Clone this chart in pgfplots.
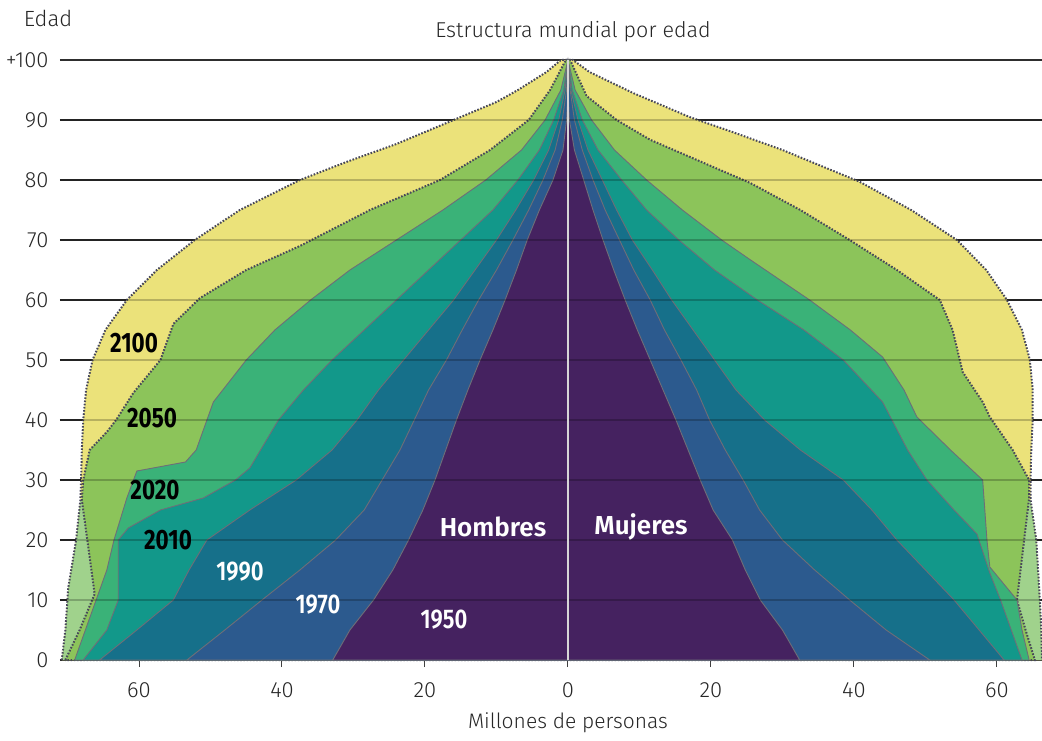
\documentclass[border=0pt]{standalone}
\usepackage{pgfplots}
\pgfplotsset{compat=1.18}
\usepackage{fontspec}
\setmainfont{Fira Sans Light}[BoldFont={Fira Sans SemiBold}]
\newfontfamily\yfont{Fira Sans}
\definecolor{c2100}{HTML}{EBE27A}
\definecolor{ccorner}{HTML}{A0D28C}
\definecolor{c2050}{HTML}{8CC45A}
\definecolor{c2020}{HTML}{3AB278}
\definecolor{c2010}{HTML}{12988A}
\definecolor{c1990}{HTML}{16708A}
\definecolor{c1970}{HTML}{2C5A8E}
\definecolor{c1950}{HTML}{452260}
\definecolor{outl}{HTML}{6E6E78}
\definecolor{dotl}{HTML}{48485A}
\begin{document}
\begin{tikzpicture}[x=1pt,y=1pt]
\useasboundingbox (0,0) rectangle (1042,740);
\begin{axis}[
  at={(60pt,80pt)}, anchor=south west,
  scale only axis, width=982pt, height=600pt,
  xmin=-71.05, xmax=66.3, ymin=0, ymax=100,
  clip=false,
  axis line style={draw=none},
  xtick={-60,-40,-20,0,20,40,60}, xticklabels={60,40,20,0,20,40,60},
  ytick={0,10,...,100}, yticklabels={0,10,20,30,40,50,60,70,80,90,+100},
  xtick pos=bottom, ytick pos=left,
  ymajorgrids, grid style={line width=1.7pt, color=black!82},
  xtick style={draw=black!75, line width=1pt}, tick align=outside, major tick length=7pt,
  ytick style={draw=none},
  tick label style={font=\fontsize{22}{24}\selectfont, text=black!85},
  xticklabel style={yshift=-12pt},
  yticklabel style={xshift=-1pt},
  /pgf/number format/assume math mode=true,
  dotted outline/.style={draw=dotl, line width=2pt, dash pattern=on 1.6pt off 1.6pt},
  solid outline/.style={draw=outl, line width=0.9pt},
]
% 2100 (outer envelope)
\addplot[fill=c2100, draw=none] coordinates {
(-70.8,0) (-70.3,5) (-69.9,12) (-68.8,20) (-68.2,26.7) (-68.1,30) (-68,35) (-67.8,40) (-67.4,45) (-66.5,50) (-64.7,55) (-61.7,60) (-57.5,65) (-52.2,70) (-45.9,75) (-37.5,80) (-31,83) (-24,86) (-16,90) (-10,93) (-7,95) (-3,98) (-1,100)
(0.7,100) (3,98) (9.1,94.5) (17,90.5) (23,88) (30,85) (40.8,79.7) (48,75) (54.4,70) (58.5,65) (61.4,60) (63.5,55) (64.6,50) (65,45) (65,40) (64.8,35) (64.7,30) (64.7,26.7) (65.5,20) (66,10) (66.2,5) (66.3,0)
} -- cycle;
% lower corners (2100 beyond 2050)
\addplot[fill=ccorner, draw=none] coordinates {
(-70.8,0) (-70.3,5) (-69.9,12) (-68.8,20) (-68.2,26.7)
(64.7,26.7) (65.5,20) (66,10) (66.2,5) (66.3,0)
} -- cycle;
\addplot[dotted outline] coordinates {
(-70.8,0) (-70.3,5) (-69.9,12) (-68.8,20) (-68.2,26.7) (-68.1,30) (-68,35) (-67.8,40) (-67.4,45) (-66.5,50) (-64.7,55) (-61.7,60) (-57.5,65) (-52.2,70) (-45.9,75) (-37.5,80) (-31,83) (-24,86) (-16,90) (-10,93) (-7,95) (-3,98) (-1,100)
(0.7,100) (3,98) (9.1,94.5) (17,90.5) (23,88) (30,85) (40.8,79.7) (48,75) (54.4,70) (58.5,65) (61.4,60) (63.5,55) (64.6,50) (65,45) (65,40) (64.8,35) (64.7,30) (64.7,26.7) (65.5,20) (66,10) (66.2,5) (66.3,0)
};
% 2050
\addplot[fill=c2050, dotted outline] coordinates {
(-70.3,0) (-68.3,5) (-66.2,11) (-67,18) (-68,26.7) (-67.8,30) (-66.9,35) (-64.5,38) (-63.2,40) (-60.8,44.5) (-57,50) (-55.2,56) (-51.5,60.3) (-45,65) (-37.5,69) (-27.7,75) (-17.9,80) (-10.9,85) (-5.5,90) (-2.5,95) (-0.3,100)
(0.3,100) (2.6,94) (6.8,90) (11.5,86.7) (25.5,79.5) (32.5,75) (39.4,70) (46,65) (52,60) (53.8,55) (55.2,48) (58,43) (59,40.5) (62.2,35) (64.5,30) (64.5,27) (63.8,20) (63.3,15) (62.8,10) (64,5) (65.3,0)
} -- cycle;
% 2020
\addplot[fill=c2020, solid outline] coordinates {
(-69,0) (-67.5,5) (-66,10) (-64.5,15) (-63.5,20) (-61.7,27) (-60.3,31.5) (-53.5,33) (-52,35) (-50.5,40) (-49.6,43) (-45,50) (-41,55) (-36,60) (-30.5,65) (-24,70) (-17.5,75) (-11.5,80) (-6.5,85) (-3.2,90) (-1,95) (0,100)
(0,100) (1,95) (3.3,90) (6.5,85) (11,80) (16,75) (21.5,70) (25.5,66.7) (33.8,60) (39.5,55) (44,50.5) (47,45) (48.8,40.5) (53.5,35) (58,30) (58.3,25) (58.6,20) (59,15.5) (62.8,10) (63.5,5) (64.5,0)
} -- cycle;
% 2010
\addplot[fill=c2010, solid outline] coordinates {
(-67.8,0) (-64.5,5) (-62.9,10) (-62.9,15) (-62.9,20) (-61.5,22) (-57,25) (-51,27) (-46.5,30) (-44.5,32) (-43,35) (-40.5,40) (-37,45) (-33,50) (-28.5,55) (-24,60) (-19.5,65) (-15,70) (-10.5,75) (-7,80) (-4,85) (-2,90) (-0.6,95) (0,100)
(0,100) (0.6,95) (2,90) (4.2,85) (7.5,80) (11,75) (15.5,70) (20.5,65) (26.5,60) (33,55) (38.5,50) (44,43) (47.5,35) (50.2,30) (54,25) (57.2,21) (59,14.5) (60.5,10) (62,5) (63.5,0)
} -- cycle;
% 1990
\addplot[fill=c1990, solid outline] coordinates {
(-65.5,0) (-60.3,5) (-55.2,10) (-53,15) (-50.5,20) (-44.5,25) (-38,30) (-33,35) (-29.5,40) (-26.5,45) (-23,50) (-19.5,55) (-16,60) (-13,65) (-10,70) (-7.3,75) (-4.8,80) (-2.7,85) (-1.3,90) (-0.4,95) (0,100)
(0,100) (0.4,95) (1.4,90) (2.8,85) (4.8,80) (6.8,75) (9,70) (11.8,65) (14.5,60) (17.5,55) (20.5,50) (23.5,45) (27.5,40) (32.5,35) (38.5,30) (42.5,25) (46,20) (50,15) (54,10) (57.5,5) (61,0)
} -- cycle;
% 1970
\addplot[fill=c1970, solid outline] coordinates {
(-53.3,0) (-48,5) (-42.8,10) (-37.5,15) (-32.5,20) (-28.5,25) (-26,30) (-23.5,35) (-21.5,40) (-19.5,45) (-17,50) (-14.8,55) (-12.5,60) (-10,65) (-7.7,70) (-5.5,75) (-3.5,80) (-1.8,85) (-0.8,90) (-0.2,95) (0,100)
(0,100) (0.3,95) (0.9,90) (2,85) (3.5,80) (5.2,75) (7.2,70) (9.2,65) (11.5,60) (13.5,55) (15.8,50) (18,45) (19.8,40) (22,35) (24.5,30) (26.8,25) (30,20) (34.5,15) (39.4,10) (44.5,5) (50.6,0)
} -- cycle;
% 1950
\addplot[fill=c1950, solid outline] coordinates {
(-32.9,0) (-30.5,5) (-27.2,10) (-24.5,15) (-22.3,20) (-20.3,25) (-18.6,30) (-17.1,35) (-15.6,40) (-14,45) (-12.3,50) (-10.5,55) (-8.8,60) (-7.2,65) (-5.7,70) (-4,75) (-2.1,80) (-0.7,85) (-0.2,90) (0,95)
(0,95) (0.2,90) (0.9,85) (2.2,80) (3.5,75) (4.9,70) (6.4,65) (8,60) (9.7,55) (11.5,50) (13.3,45) (15.1,40) (16.8,35) (18.5,30) (20.3,25) (23,20) (24.8,15) (26.9,10) (30,5) (32.4,0)
} -- cycle;
% faint grid lines over the areas
\pgfplotsinvokeforeach{10,20,...,90}{
  \addplot[black, opacity=0.22, line width=1.2pt, forget plot] coordinates {(-71.05,#1) (66.3,#1)};
}
% centre line
\addplot[color=black!16, line width=2pt] coordinates {(0,0) (0,100)};
\end{axis}
% texts
\node[font=\fontsize{22}{24}\selectfont, text=black!85] at (48,722) {Edad};
\node[font=\fontsize{21.5}{24}\selectfont, text=black!85] at (573,708) {Estructura mundial por edad};
\node[font=\fontsize{21}{24}\selectfont, text=black!85, anchor=base] at (568,12) {Millones de personas};
\begin{scope}[every node/.style={font=\yfont\bfseries\fontsize{28}{30}\selectfont}]
\node at (134,397) {\scalebox{0.8}[1]{2100}};
\node at (152,322) {\scalebox{0.8}[1]{2050}};
\node at (155,250) {\scalebox{0.8}[1]{2020}};
\node at (168,200) {\scalebox{0.8}[1]{2010}};
\end{scope}
\begin{scope}[every node/.style={font=\fontsize{27}{29}\selectfont\bfseries, text=white}]
\node at (240,168) {\scalebox{0.82}[1]{1990}};
\node at (318,135) {\scalebox{0.82}[1]{1970}};
\node at (444,120) {\scalebox{0.82}[1]{1950}};
\end{scope}
\begin{scope}[every node/.style={font=\fontsize{26}{28}\selectfont\bfseries, text=white}]
\node at (493,213) {Hombres};
\node at (641,213) {Mujeres};
\end{scope}
\end{tikzpicture}
\end{document}
